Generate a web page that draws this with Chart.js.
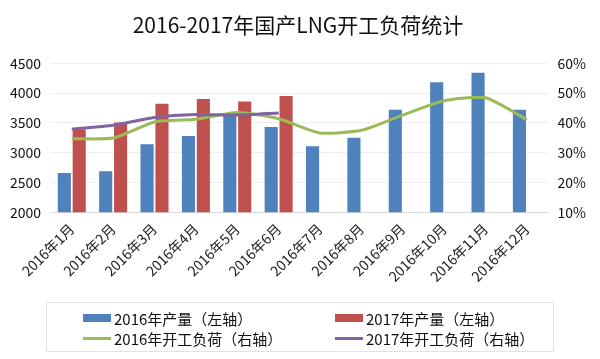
<!DOCTYPE html>
<html>
<head>
<meta charset="utf-8">
<script src="https://cdn.jsdelivr.net/npm/chart.js@4"></script>
<style>
  html, body { margin: 0; padding: 0; background: #fff; }
  #wrap { position: relative; width: 600px; height: 359px; }
  #legend {
    position: absolute; left: 46px; top: 302px; width: 508px; height: 50px;
    border: 1px solid #e3e3e3; box-sizing: border-box;
    font-family: "Noto Sans CJK SC", sans-serif; font-size: 15px; color: #111;
  }
  .item { position: absolute; display: flex; align-items: center; height: 20px; }
  .sw { width: 28px; margin-right: 3px; }
</style>
</head>
<body>
<div id="wrap">
  <canvas id="myChart" width="600" height="359"></canvas>
  <div id="legend"></div>
</div>
<script>
const months = ['2016年1月', '2016年2月', '2016年3月', '2016年4月', '2016年5月', '2016年6月',
  '2016年7月', '2016年8月', '2016年9月', '2016年10月', '2016年11月', '2016年12月'];
const output2016 = [2660, 2690, 3140, 3280, 3630, 3430, 3110, 3250, 3720, 4180, 4340, 3720];
const output2017 = [3390, 3505, 3820, 3900, 3860, 3950, null, null, null, null, null, null];
const load2016 = [34.7, 34.9, 40.3, 41.2, 43.5, 41.4, 36.6, 37.5, 42.6, 47.4, 48.4, 41.1];
const load2017 = [37.9, 39.2, 41.8, 42.8, 42.6, 43.3, null, null, null, null, null, null];

const font = "'Noto Sans CJK SC', sans-serif";
const ctx = document.getElementById('myChart');

new Chart(ctx, {
  type: 'bar',
  data: {
    labels: months,
    datasets: [
      { type: 'line', label: '2016年开工负荷（右轴）', data: load2016, yAxisID: 'y1',
        borderColor: '#9BBB59', backgroundColor: '#9BBB59', borderWidth: 3, pointRadius: 0,
        tension: 0.2, order: 1 },
      { type: 'line', label: '2017年开工负荷（右轴）', data: load2017, yAxisID: 'y1',
        borderColor: '#8064A2', backgroundColor: '#8064A2', borderWidth: 3, pointRadius: 0,
        tension: 0.2, order: 0 },
      { label: '2016年产量（左轴）', data: output2016, yAxisID: 'y',
        backgroundColor: '#4F81BD', order: 2, categoryPercentage: 0.72, barPercentage: 0.88 },
      { label: '2017年产量（左轴）', data: output2017, yAxisID: 'y',
        backgroundColor: '#C0504D', order: 2, categoryPercentage: 0.72, barPercentage: 0.88 }
    ]
  },
  options: {
    responsive: false,
    animation: false,
    layout: { padding: { left: 0, right: 4, top: 0, bottom: 74 } },
    plugins: {
      legend: { display: false },
      tooltip: { enabled: false },
      title: {
        display: true,
        text: '2016-2017年国产LNG开工负荷统计',
        color: '#111',
        font: { family: font, size: 21, weight: 'normal' },
        padding: { top: 12, bottom: 26 }
      }
    },
    scales: {
      x: {
        grid: { display: false },
        border: { color: '#d9d9d9' },
        ticks: { color: '#222', font: { family: font, size: 14 }, maxRotation: 45, minRotation: 45, padding: 0 }
      },
      y: {
        position: 'left', min: 2000, max: 4500,
        ticks: { stepSize: 500, color: '#111', font: { family: font, size: 14 }, padding: 10,
          callback: v => String(v) },
        grid: { color: '#eeeeee', drawTicks: false },
        border: { display: false }
      },
      y1: {
        position: 'right', min: 10, max: 60,
        ticks: { stepSize: 10, color: '#111', font: { family: font, size: 14 }, padding: 10,
          callback: v => v + '%' },
        grid: { display: false, drawTicks: false },
        border: { display: false }
      }
    }
  }
});

// legend in two aligned columns, like the original
const legendItems = [
  { text: '2016年产量（左轴）', color: '#4F81BD', bar: true, x: 36, y: 5 },
  { text: '2017年产量（左轴）', color: '#C0504D', bar: true, x: 288, y: 5 },
  { text: '2016年开工负荷（右轴）', color: '#9BBB59', bar: false, x: 36, y: 25 },
  { text: '2017年开工负荷（右轴）', color: '#8064A2', bar: false, x: 288, y: 25 }
];
const legend = document.getElementById('legend');
legendItems.forEach(it => {
  const d = document.createElement('div');
  d.className = 'item';
  d.style.left = it.x + 'px';
  d.style.top = it.y + 'px';
  const sw = document.createElement('span');
  sw.className = 'sw';
  sw.style.height = it.bar ? '8px' : '3px';
  sw.style.background = it.color;
  const t = document.createElement('span');
  t.textContent = it.text;
  d.appendChild(sw);
  d.appendChild(t);
  legend.appendChild(d);
});
</script>
</body>
</html>
